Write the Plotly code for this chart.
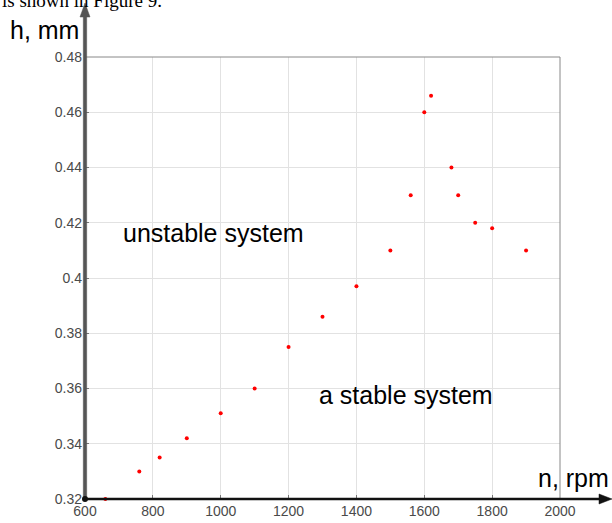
import plotly.graph_objects as go

n_rpm = [660, 760, 820, 900, 1000, 1100, 1200, 1300, 1400, 1500, 1560, 1600, 1620, 1680, 1700, 1750, 1800, 1900]
h_mm = [0.320, 0.330, 0.335, 0.342, 0.351, 0.360, 0.375, 0.386, 0.397, 0.410, 0.430, 0.460, 0.466, 0.440, 0.430, 0.420, 0.418, 0.410]
x_ticks = [600, 800, 1000, 1200, 1400, 1600, 1800, 2000]
y_ticks = [0.32, 0.34, 0.36, 0.38, 0.40, 0.42, 0.44, 0.46, 0.48]
y_tick_text = ["0.32", "0.34", "0.36", "0.38", "0.4", "0.42", "0.44", "0.46", "0.48"]

W, H = 612, 523
L, R, T, B = 85, 52, 57, 24

fig = go.Figure()


def deco_line(xs, ys, color, width):
    fig.add_trace(go.Scatter(x=xs, y=ys, mode="lines", line=dict(color=color, width=width),
                             xaxis="x2", yaxis="y2", showlegend=False, hoverinfo="skip",
                             cliponaxis=False))


def deco_fill(xs, ys, color):
    fig.add_trace(go.Scatter(x=xs, y=ys, mode="lines", fill="toself", fillcolor=color,
                             line=dict(color=color, width=0.5),
                             xaxis="x2", yaxis="y2", showlegend=False, hoverinfo="skip",
                             cliponaxis=False))


# frame (thin grey top/right)
deco_line([85, 560, 560], [57, 57, 499], "#888", 1)
# vertical axis with arrow
deco_fill([83.3, 86.7, 86.7, 83.3, 83.3], [500, 500, 15, 15, 500], "#555")
deco_fill([85, 80, 90, 85], [3, 17, 17, 3], "#555")
# horizontal axis with arrow
deco_line([84, 603], [499, 499], "#111", 2.5)
deco_fill([612, 599, 599, 612], [499, 494, 504, 499], "#111")
fig.add_trace(go.Scatter(x=[85], y=[499], mode="markers", marker=dict(color="#111", size=6),
                         xaxis="x2", yaxis="y2", showlegend=False, hoverinfo="skip",
                         cliponaxis=False))

# data
fig.add_trace(go.Scatter(x=n_rpm, y=h_mm, mode="markers", cliponaxis=False,
                         marker=dict(color="#ff0000", size=4), showlegend=False,
                         xaxis="x", yaxis="y"))

fig.update_layout(
    width=W, height=H,
    margin=dict(l=0, r=0, t=0, b=0, autoexpand=False),
    paper_bgcolor="white", plot_bgcolor="rgba(0,0,0,0)",
    font=dict(family="Liberation Sans, Arial", color="#444"),
    xaxis=dict(domain=[L / W, (W - R) / W], range=[600, 2000], tickvals=x_ticks,
               ticks="inside", ticklen=4, tickcolor="#777",
               showgrid=True, gridcolor="#e2e2e2", gridwidth=1,
               showline=False, zeroline=False, anchor="y",
               tickfont=dict(size=14, color="#4a4a4a"),
               ticklabelstandoff=2, automargin=False),
    yaxis=dict(domain=[B / H, (H - T) / H], range=[0.32, 0.48], tickvals=y_ticks,
               ticktext=y_tick_text, ticks="inside", ticklen=4, tickcolor="#777",
               showgrid=True, gridcolor="#e2e2e2", gridwidth=1,
               showline=False, zeroline=False, anchor="x",
               tickfont=dict(size=14, color="#4a4a4a"),
               ticklabelstandoff=2, automargin=False),
    xaxis2=dict(domain=[0, 1], range=[0, W], visible=False, anchor="y2", fixedrange=True),
    yaxis2=dict(domain=[0, 1], range=[H, 0], visible=False, anchor="x2", fixedrange=True),
)

big = dict(size=25, color="#000", family="Liberation Sans, Arial")
annotations = [
    dict(x=8, y=30, xref="x2", yref="y2", xanchor="left",
         yanchor="middle", text="h, mm", showarrow=False, font=big),
    dict(x=611, y=478, xref="x2", yref="y2", xanchor="right",
         yanchor="middle", text="n, rpm", showarrow=False, font=big),
    dict(x=121, y=233, xref="x2", yref="y2", xanchor="left",
         yanchor="middle", text="unstable system", showarrow=False, font=big),
    dict(x=317, y=395, xref="x2", yref="y2", xanchor="left",
         yanchor="middle", text="a stable system", showarrow=False, font=big),
    dict(x=0, y=1, xref="paper", yref="paper", xanchor="left",
         yanchor="middle", text="is shown in Figure 9.", showarrow=False,
         font=dict(size=19, color="#000", family="Liberation Serif, Times New Roman")),
]
fig.update_layout(annotations=annotations)

fig.write_html("out.html")
